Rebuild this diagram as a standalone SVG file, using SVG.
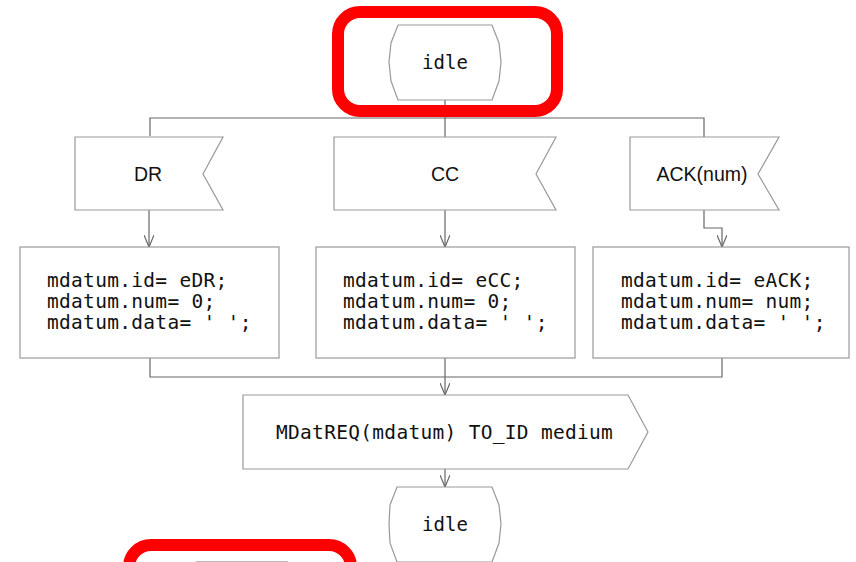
<svg xmlns="http://www.w3.org/2000/svg" width="856" height="562" viewBox="0 0 856 562">
  <style>
    .shape { fill: #ffffff; stroke: #999999; stroke-width: 1.2; }
    .wire { fill: none; stroke: #666666; stroke-width: 1.2; }
    .code { font-family: "DejaVu Sans Mono", "Liberation Mono", monospace; font-size: 19.5px; letter-spacing: 0.3px; fill: #111111; }
    .state { font-family: "DejaVu Sans Mono", "Liberation Mono", monospace; font-size: 19px; fill: #111111; text-anchor: middle; }
    .sig { font-family: "Liberation Sans", Arial, sans-serif; font-size: 19.5px; fill: #111111; text-anchor: middle; }
    .hl { fill: none; stroke: #ff0000; stroke-width: 12; }
  </style>
  <defs>
    <marker id="open" viewBox="0 0 12 10" markerWidth="12" markerHeight="10" refX="12" refY="5" orient="auto" markerUnits="userSpaceOnUse">
      <path d="M0,0 L12,5 L0,10" fill="none" stroke="#666666" stroke-width="1.2"/>
    </marker>
  </defs>
  <rect width="856" height="562" fill="#ffffff"/>

  <!-- connectors -->
  <g id="connectors" class="wire">
    <path d="M445,100 V118 M150,136 V118 H704 V137"/>
    <path d="M445,118 V137"/>
    <path d="M149,210 V247" marker-end="url(#open)"/>
    <path d="M445,210 V247" marker-end="url(#open)"/>
    <path d="M704,210 V228 H722 V247" marker-end="url(#open)"/>
    <path d="M150,358 V377 H722 V358"/>
    <path d="M445,358 V395" marker-end="url(#open)"/>
    <path d="M445,469 V487" marker-end="url(#open)"/>
  </g>

  <!-- start state -->
  <g id="idle-start">
    <path class="shape" d="M398,25 H492 L499,43 L501,62 L499,81 L492,100 H398 L391,81 L389,62 L391,43 Z"/>
    <text class="state" x="445" y="69">idle</text>
  </g>

  <!-- input signals -->
  <g id="sig-dr">
    <polygon class="shape" points="75,137 223,137 203,174 223,210 75,210"/>
    <text class="sig" x="148" y="181">DR</text>
  </g>
  <g id="sig-cc">
    <polygon class="shape" points="334,137 556,137 536,174 556,210 334,210"/>
    <text class="sig" x="445" y="181">CC</text>
  </g>
  <g id="sig-ack">
    <polygon class="shape" points="630,137 779,137 758,174 779,210 630,210"/>
    <text class="sig" x="702" y="181">ACK(num)</text>
  </g>

  <!-- tasks -->
  <g id="task-dr">
    <rect class="shape" x="20" y="247" width="259" height="111"/>
    <text class="code" x="47" y="287">mdatum.id= eDR;</text>
    <text class="code" x="47" y="308">mdatum.num= 0;</text>
    <text class="code" x="47" y="329">mdatum.data= ' ';</text>
  </g>
  <g id="task-cc">
    <rect class="shape" x="316" y="247" width="259" height="111"/>
    <text class="code" x="343" y="287">mdatum.id= eCC;</text>
    <text class="code" x="343" y="308">mdatum.num= 0;</text>
    <text class="code" x="343" y="329">mdatum.data= ' ';</text>
  </g>
  <g id="task-ack">
    <rect class="shape" x="593" y="247" width="256" height="111"/>
    <text class="code" x="621" y="287">mdatum.id= eACK;</text>
    <text class="code" x="621" y="308">mdatum.num= num;</text>
    <text class="code" x="621" y="329">mdatum.data= ' ';</text>
  </g>

  <!-- output signal -->
  <g id="output-mdatreq">
    <polygon class="shape" points="243,395 628,395 648,432 628,469 243,469"/>
    <text class="code" x="276" y="439">MDatREQ(mdatum) TO_ID medium</text>
  </g>

  <!-- next state -->
  <g id="idle-next">
    <path class="shape" d="M397,487 H492 L499,505 L501,524 L499,543 L492,562 H397 L390,543 L389,524 L390,505 Z"/>
    <text class="state" x="445" y="531">idle</text>
  </g>

  <!-- partly visible node below -->
  <g id="node-below">
    <line x1="196" y1="561.5" x2="288" y2="561.5" stroke="#bbbbbb" stroke-width="1.2"/>
  </g>

  <!-- highlight frames -->
  <g id="highlights">
    <rect class="hl" x="338" y="12" width="219" height="99" rx="22"/>
    <rect class="hl" x="129" y="545" width="222" height="60" rx="22"/>
  </g>
</svg>
